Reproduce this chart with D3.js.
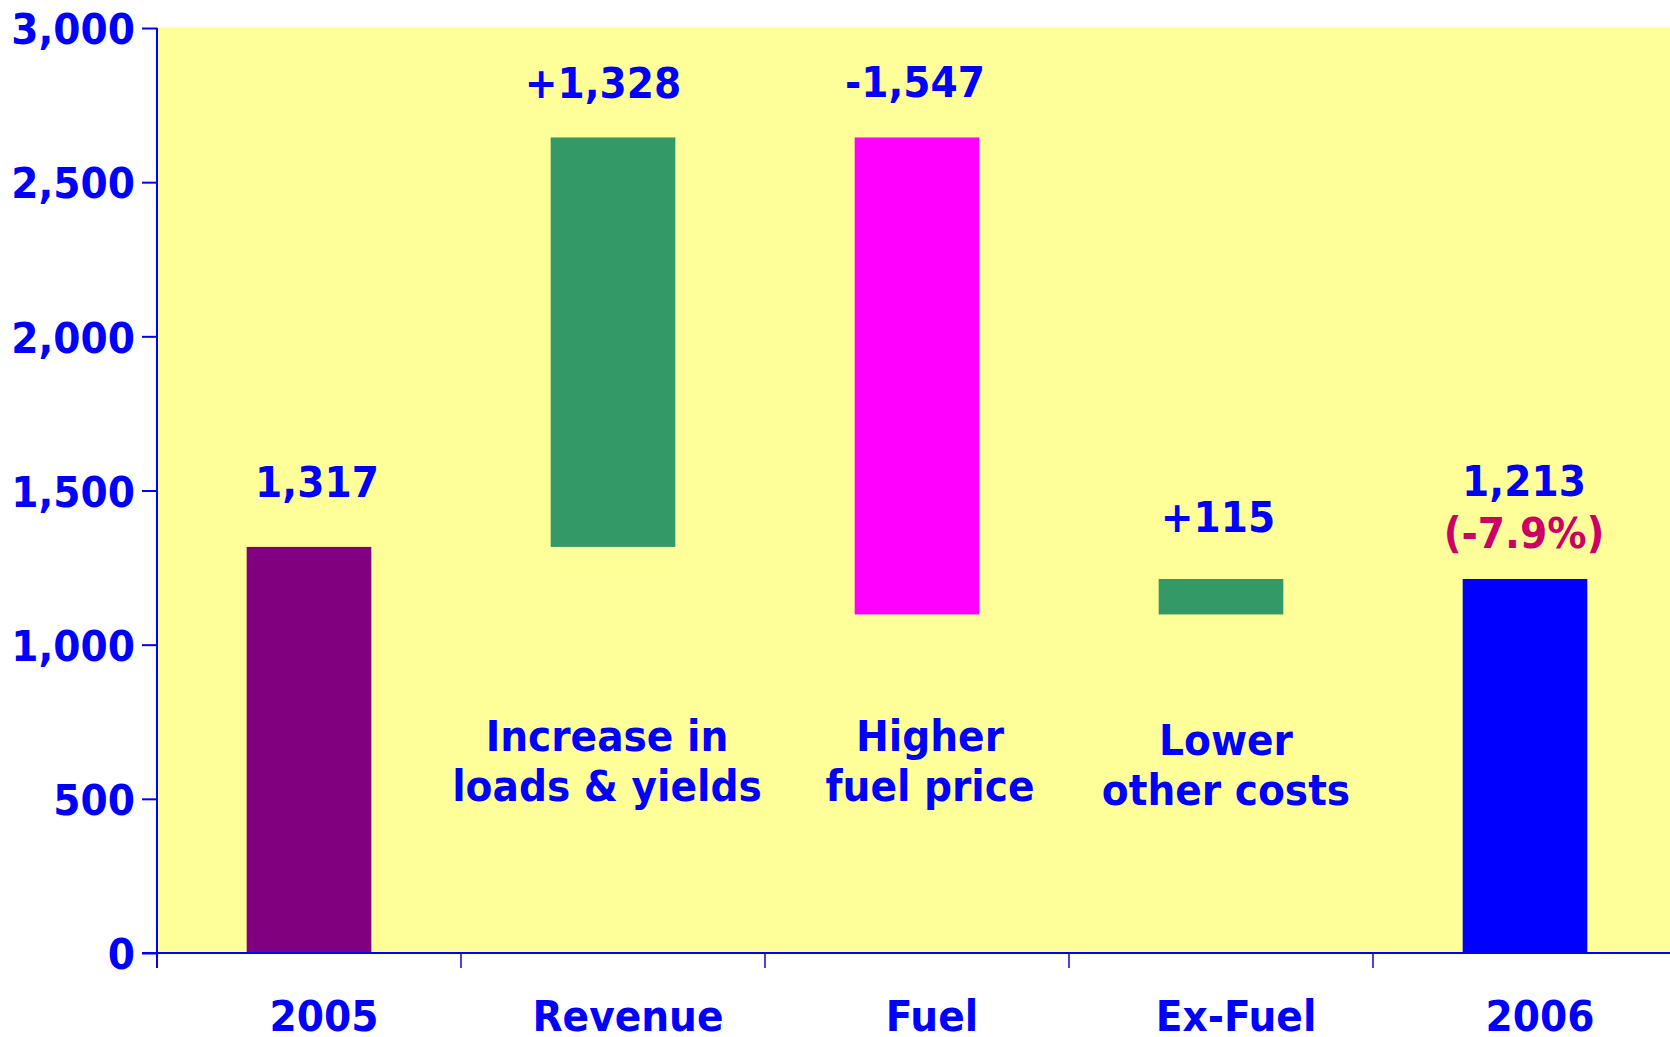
<!DOCTYPE html>
<html>
<head>
<meta charset="utf-8">
<script src="https://cdn.jsdelivr.net/npm/d3@7"></script>
<style>
  html, body { margin: 0; padding: 0; background: #ffffff; }
  svg { display: block; }
  text { font-family: "DejaVu Sans Condensed", "DejaVu Sans", sans-serif; font-weight: bold; font-stretch: condensed; }
</style>
</head>
<body>
<svg id="chart" width="1670" height="1037"></svg>
<script>
// ---- data ----
const categories = ["2005", "Revenue", "Fuel", "Ex-Fuel", "2006"];
const kinds = ["total", "delta", "delta", "delta", "total"];
const values = [1317, 1328, -1547, 115, 1213];
const valueLabels = ["1,317", "+1,328", "-1,547", "+115", "1,213"];
const changeLabel = "(-7.9%)";
const notes = [[], ["Increase in", "loads & yields"], ["Higher", "fuel price"], ["Lower", "other costs"], []];
const barColors = ["#800080", "#339966", "#FF00FF", "#339966", "#0000FF"];
const yTicks = [0, 500, 1000, 1500, 2000, 2500, 3000];

// ---- layout ----
const W = 1670, H = 1037;
const plot = { left: 157, right: 1677, top: 28, bottom: 953 };
const fontSize = 43.5;
const blue = "#0000FF";
const labelDx = [8, -10, -2, -3, -1];
const labelDy = [-50, -39, -40, -47, -83];
const pctDy = -31;
const noteDx = [0, -6, 13, 5, 0];
const noteBase = [0, 751, 751, 755, 0];
const noteLineGap = 50;
const catLabelDx = 15;
const catLabelBaseline = 1031;

const svg = d3.select("#chart");

const x = d3.scaleBand().domain(categories).range([plot.left, plot.right])
  .paddingInner(0.59).paddingOuter(0.295);
const y = d3.scaleLinear().domain([0, 3000]).range([plot.bottom, plot.top]);

// waterfall spans
let running = 0;
const bars = categories.map((c, i) => {
  let lo, hi;
  if (kinds[i] === "total") { lo = 0; hi = values[i]; running = values[i]; }
  else { const start = running; running += values[i]; lo = Math.min(start, running); hi = Math.max(start, running); }
  return { cat: c, lo, hi, i };
});

// plot background
svg.append("rect")
  .attr("x", plot.left).attr("y", y(3000) - 1)
  .attr("width", W - plot.left).attr("height", y(0) - y(3000) + 1)
  .attr("fill", "#FFFF99");

// bars
svg.append("g").selectAll("rect").data(bars).join("rect")
  .attr("x", d => x(d.cat))
  .attr("y", d => y(d.hi))
  .attr("width", x.bandwidth())
  .attr("height", d => y(d.lo) - y(d.hi))
  .attr("fill", d => barColors[d.i]);

// y axis
const yAxis = d3.axisLeft(y).tickValues(yTicks).tickFormat(d3.format(","))
  .tickSize(15).tickSizeOuter(0).tickPadding(7);
const gy = svg.append("g").attr("transform", `translate(${plot.left},0)`).call(yAxis);
gy.select(".domain").remove();
gy.selectAll(".tick line").attr("stroke", blue).attr("stroke-width", 2);
gy.selectAll(".tick text").attr("fill", blue).attr("font-size", fontSize)
  .attr("font-family", null).attr("dy", "0.36em");
svg.append("line")
  .attr("x1", plot.left).attr("x2", plot.left)
  .attr("y1", y(3000)).attr("y2", y(0) + 15)
  .attr("stroke", blue).attr("stroke-width", 2);

// x axis
svg.append("line")
  .attr("x1", plot.left - 15).attr("x2", W)
  .attr("y1", y(0)).attr("y2", y(0))
  .attr("stroke", blue).attr("stroke-width", 2.2);
const step = x.step();
const bounds = categories.map(c => x(c) - x.paddingOuter() * step);
svg.append("g").selectAll("line").data(bounds).join("line")
  .attr("x1", d => d).attr("x2", d => d)
  .attr("y1", y(0)).attr("y2", y(0) + 15)
  .attr("stroke", blue).attr("stroke-width", 1.5);

// category labels
svg.append("g").selectAll("text").data(categories).join("text")
  .attr("x", d => x(d) + x.bandwidth() / 2 + catLabelDx)
  .attr("y", catLabelBaseline)
  .attr("text-anchor", "middle")
  .attr("font-size", fontSize)
  .attr("fill", blue)
  .text(d => d);

// value labels
svg.append("g").selectAll("text").data(bars).join("text")
  .attr("x", d => x(d.cat) + x.bandwidth() / 2 + labelDx[d.i])
  .attr("y", d => y(d.hi) + labelDy[d.i])
  .attr("text-anchor", "middle")
  .attr("font-size", fontSize)
  .attr("fill", blue)
  .text(d => valueLabels[d.i]);

// percent change label
const last = bars[bars.length - 1];
svg.append("text")
  .attr("x", x(last.cat) + x.bandwidth() / 2 + labelDx[last.i])
  .attr("y", y(last.hi) + pctDy)
  .attr("text-anchor", "middle")
  .attr("font-size", fontSize)
  .attr("fill", "#CC0066")
  .text(changeLabel);

// notes
categories.forEach((c, i) => {
  notes[i].forEach((line, k) => {
    svg.append("text")
      .attr("x", x(c) + x.bandwidth() / 2 + noteDx[i])
      .attr("y", noteBase[i] + k * noteLineGap)
      .attr("text-anchor", "middle")
      .attr("font-size", fontSize)
      .attr("fill", blue)
      .text(line);
  });
});
</script>
</body>
</html>
